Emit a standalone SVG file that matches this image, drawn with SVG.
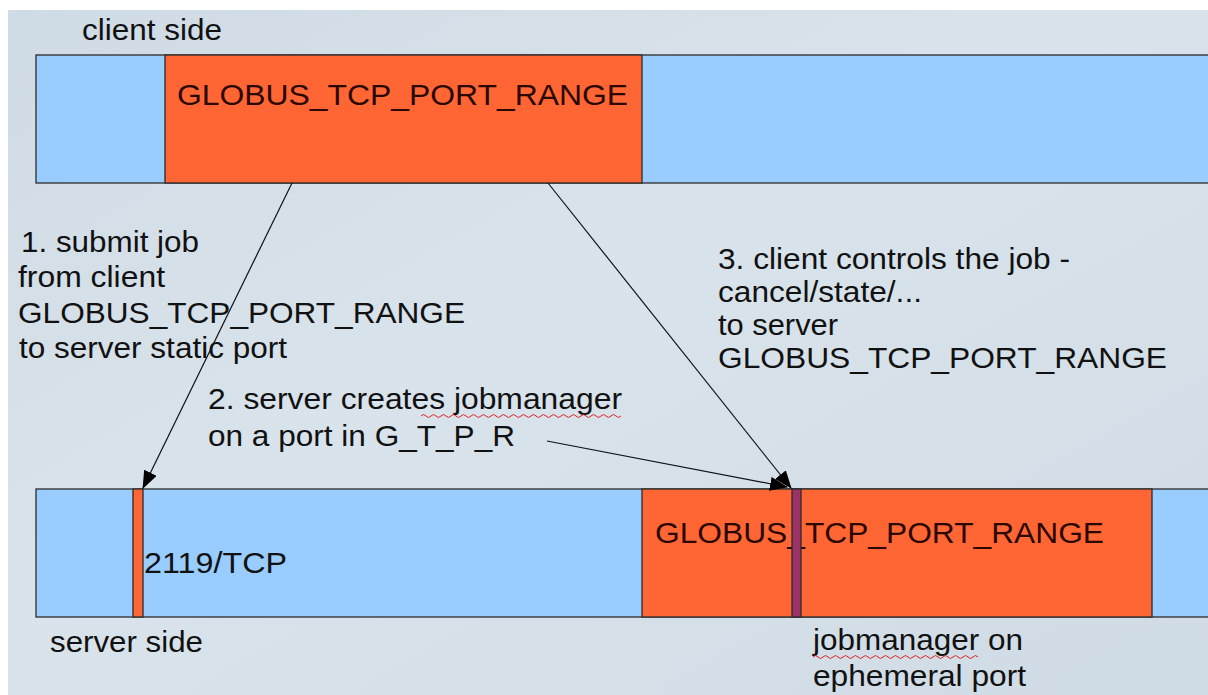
<svg xmlns="http://www.w3.org/2000/svg" width="1208" height="695" viewBox="0 0 1208 695">
  <defs>
    <linearGradient id="bg" x1="0" y1="0" x2="1" y2="1">
      <stop offset="0" stop-color="#cfdbe5"/>
      <stop offset="0.45" stop-color="#d9e3eb"/>
      <stop offset="1" stop-color="#cfdbe5"/>
    </linearGradient>
    <marker id="arrow" viewBox="0 0 18 14" refX="17" refY="7" markerWidth="18" markerHeight="14" markerUnits="userSpaceOnUse" orient="auto">
      <path d="M0,0 L18,7 L0,14 Z" fill="#000"/>
    </marker>
    <style>
      .lbl { font-family: "Liberation Sans", Arial, sans-serif; font-size: 30px; fill: #111; }
      .in-range { fill: #2a0800; }
      .seg { stroke: #2b2b2b; stroke-width: 1.3; }
      .blue { fill: #99ccff; }
      .orange { fill: #ff6633; }
      .port { fill: #993366; }
      .conn { stroke: #111; stroke-width: 1.2; fill: none; }
      .spell { stroke: #e02020; stroke-width: 1; fill: none; }
    </style>
  </defs>

  <!-- page background -->
  <rect x="0" y="0" width="1208" height="695" fill="#ffffff"/>
  <rect x="8" y="10" width="1200" height="685" fill="url(#bg)"/>

  <!-- client side port space -->
  <g id="client-bar">
    <rect class="seg blue" x="36" y="55" width="1180" height="128"/>
    <rect class="seg orange" x="165" y="55" width="477" height="128"/>
    <text class="lbl in-range" x="177" y="105" textLength="451" lengthAdjust="spacingAndGlyphs">GLOBUS_TCP_PORT_RANGE</text>
  </g>
  <g id="client-label">
    <text class="lbl" x="82" y="40" textLength="140" lengthAdjust="spacingAndGlyphs">client side</text>
  </g>

  <!-- server side port space -->
  <g id="server-bar">
    <rect class="seg blue" x="36" y="489" width="1180" height="128"/>
    <rect class="seg orange" x="133" y="489" width="10" height="128"/>
    <rect class="seg orange" x="642" y="489" width="510" height="128"/>
    <text class="lbl in-range" x="655" y="543" textLength="449" lengthAdjust="spacingAndGlyphs">GLOBUS_TCP_PORT_RANGE</text>
    <rect class="seg port" x="792" y="489" width="9" height="128"/>
    <text class="lbl" x="144" y="573" textLength="143" lengthAdjust="spacingAndGlyphs">2119/TCP</text>
  </g>
  <g id="server-label">
    <text class="lbl" x="50" y="652" textLength="153" lengthAdjust="spacingAndGlyphs">server side</text>
  </g>

  <!-- step annotations -->
  <g id="step1">
    <text class="lbl" x="21" y="252" textLength="178" lengthAdjust="spacingAndGlyphs">1. submit job</text>
    <text class="lbl" x="18" y="287" textLength="147" lengthAdjust="spacingAndGlyphs">from client</text>
    <text class="lbl" x="18" y="323" textLength="447" lengthAdjust="spacingAndGlyphs">GLOBUS_TCP_PORT_RANGE</text>
    <text class="lbl" x="19" y="358" textLength="268" lengthAdjust="spacingAndGlyphs">to server static port</text>
  </g>
  <g id="step2">
    <text class="lbl" x="208" y="409" textLength="414" lengthAdjust="spacingAndGlyphs">2. server creates jobmanager</text>
    <text class="lbl" x="208" y="446" textLength="307" lengthAdjust="spacingAndGlyphs">on a port in G_T_P_R</text>
    <path class="spell" d="M421,416 q2.5,-3 5,0 t5,0 t5,0 t5,0 t5,0 t5,0 t5,0 t5,0 t5,0 t5,0 t5,0 t5,0 t5,0 t5,0 t5,0 t5,0 t5,0 t5,0 t5,0 t5,0 t5,0 t5,0 t5,0 t5,0 t5,0 t5,0 t5,0 t5,0 t5,0 t5,0 t5,0 t5,0 t5,0 t5,0 t5,0 t5,0 t5,0 t5,0 t5,0 t5,0"/>
  </g>
  <g id="step3">
    <text class="lbl" x="718" y="269" textLength="352" lengthAdjust="spacingAndGlyphs">3. client controls the job -</text>
    <text class="lbl" x="718" y="302" textLength="204" lengthAdjust="spacingAndGlyphs">cancel/state/...</text>
    <text class="lbl" x="718" y="335" textLength="120" lengthAdjust="spacingAndGlyphs">to server</text>
    <text class="lbl" x="718" y="368" textLength="449" lengthAdjust="spacingAndGlyphs">GLOBUS_TCP_PORT_RANGE</text>
  </g>
  <g id="jobmanager-label">
    <text class="lbl" x="813" y="650" textLength="210" lengthAdjust="spacingAndGlyphs">jobmanager on</text>
    <text class="lbl" x="813" y="686" textLength="213" lengthAdjust="spacingAndGlyphs">ephemeral port</text>
    <path class="spell" d="M813,657 q2.5,-3 5,0 t5,0 t5,0 t5,0 t5,0 t5,0 t5,0 t5,0 t5,0 t5,0 t5,0 t5,0 t5,0 t5,0 t5,0 t5,0 t5,0 t5,0 t5,0 t5,0 t5,0 t5,0 t5,0 t5,0 t5,0 t5,0 t5,0 t5,0 t5,0 t5,0 t5,0 t5,0 t5,0"/>
  </g>

  <!-- connectors -->
  <g id="connectors">
    <line class="conn" x1="292" y1="183" x2="143" y2="488" marker-end="url(#arrow)"/>
    <line class="conn" x1="548" y1="183" x2="791" y2="488" marker-end="url(#arrow)"/>
    <line class="conn" x1="547" y1="441" x2="787" y2="487" marker-end="url(#arrow)"/>
  </g>
</svg>
